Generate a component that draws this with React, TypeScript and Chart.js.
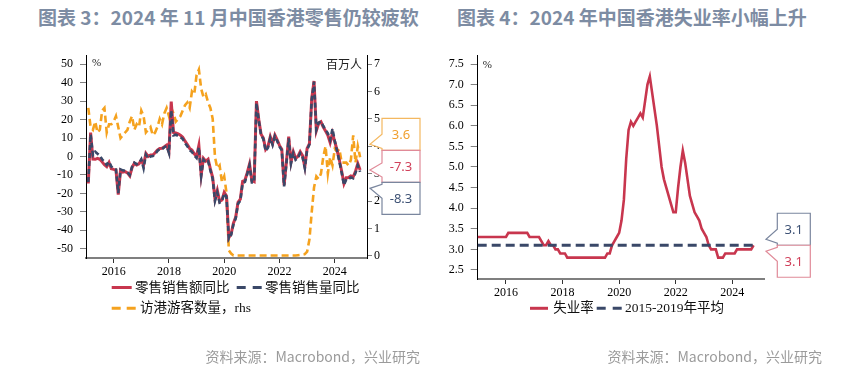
import React, { useEffect, useRef } from "react";
import { Chart, registerables } from "chart.js";

Chart.register(...registerables);

// ---------------- DATA ----------------
const START_YEAR = 2015;

// 零售销售额同比 (%), monthly Jan 2015 – Nov 2024
const retailValueYoY = [
  -14.6, 13.0, -1.4, -1.5, -1.0, -1.5, -2.9, -4.5, -5.5, -3.2, -6.6, -7.0,
  -7.3, -20.6, -7.5, -8.5, -8.2, -8.9, -10.5, -6.0, -3.7, -4.6, -4.0, -2.0,
  -4.6, 1.7, 0.0, 0.8, 0.8, 2.0, 3.5, 4.4, 4.5, 5.3, 6.2, 2.6,
  29.8, 13.0, 12.8, 12.3, 11.5, 10.5, 8.3, 6.5, 4.4, 3.5, 1.5, 0.1,
  6.0, -10.0, -1.0, -2.5, -1.5, -6.7, -11.4, -23.0, -18.3, -24.3, -23.6, -19.4,
  -21.4, -44.0, -42.0, -36.1, -32.8, -24.8, -23.1, -13.4, -12.9, -8.8, -4.1, -13.0,
  -13.6, 30.0, 20.1, 12.1, 10.0, 3.8, 5.5, 10.7, 7.0, 11.6, 9.0, 6.0,
  4.0, -15.5, -3.0, 10.7, -3.0, 2.6, -1.0, 0.0, 2.6, 0.5, -5.5, 4.4,
  7.0, 31.3, 40.9, 14.0, 18.0, 18.8, 16.0, 13.8, 11.5, 7.5, 12.5, 8.0,
  3.5, -1.9, -8.0, -14.7, -11.5, -11.4, -10.5, -11.0, -8.0, -3.8, -7.3,
];

// 零售销售量同比 (%), monthly Jan 2015 – Nov 2024
const retailVolumeYoY = [
  -13.8, 12.0, 0.8, 2.6, 1.5, 0.5, -1.5, -3.0, -4.5, -2.8, -5.5, -6.5,
  -7.0, -19.8, -7.0, -7.5, -7.8, -8.5, -10.0, -5.5, -3.3, -4.2, -3.6, -1.5,
  -6.4, 1.0, -1.0, 0.0, 0.2, 1.3, 3.0, 4.0, 4.0, 5.0, 5.8, 2.0,
  25.0, 11.5, 11.8, 11.2, 10.5, 9.5, 7.2, 5.5, 3.5, 2.5, 0.5, -0.8,
  5.0, -10.5, -1.8, -3.2, -2.5, -7.5, -12.2, -24.0, -19.5, -25.0, -24.3, -20.0,
  -22.0, -44.6, -42.5, -36.8, -33.5, -25.5, -24.0, -14.5, -13.8, -9.5, -4.8, -14.0,
  -14.0, 29.0, 19.5, 11.5, 9.5, 3.0, 4.8, 10.0, 6.3, 11.0, 8.4, 5.3,
  3.4, -16.2, -3.8, 9.8, -3.8, 1.8, -1.8, -0.8, 1.8, -0.3, -6.3, 3.6,
  6.5, 31.0, 40.5, 14.5, 18.3, 19.0, 16.5, 14.5, 12.5, 9.0, 15.0, 8.5,
  3.0, -2.8, -8.8, -15.5, -12.3, -12.2, -11.3, -11.8, -8.9, -4.8, -8.3,
];

// 访港游客数量 (百万人, rhs), monthly Jan 2015 – Nov 2024
const visitorArrivalsMn = [
  5.4, 4.7, 4.6, 4.9, 4.5, 4.6, 5.3, 5.4, 4.5, 4.8, 4.8, 4.9,
  5.1, 4.7, 4.3, 4.4, 4.5, 4.6, 4.9, 5.1, 4.6, 4.8, 4.7, 5.3,
  5.1, 4.5, 4.6, 4.7, 4.4, 4.5, 4.7, 5.0, 4.8, 5.2, 5.4, 5.1,
  5.4, 5.2, 4.9, 5.0, 5.1, 5.3, 5.5, 5.6, 5.4, 6.0, 5.9, 6.6,
  6.8, 6.1, 5.8, 5.9, 5.6, 5.4, 5.0, 3.6, 3.2, 3.3, 2.7, 2.9,
  2.3, 0.2, 0.08, 0.01, 0.01, 0.01, 0.01, 0.01, 0.01, 0.01, 0.01, 0.01,
  0.01, 0.01, 0.01, 0.01, 0.01, 0.01, 0.01, 0.01, 0.01, 0.01, 0.01, 0.01,
  0.01, 0.01, 0.01, 0.01, 0.01, 0.01, 0.01, 0.02, 0.03, 0.04, 0.06, 0.15,
  0.6, 1.6, 2.5, 2.9, 2.8, 3.0, 3.6, 4.0, 3.0, 3.6, 3.3, 3.9,
  3.8, 3.9, 3.4, 3.4, 3.4, 3.3, 3.5, 4.4, 3.4, 4.0, 3.6,
];

// 失业率 (%), monthly Jan 2015 – Oct 2024
const unemploymentRate = [
  3.3, 3.3, 3.3, 3.3, 3.3, 3.3, 3.3, 3.3, 3.3, 3.3, 3.3, 3.3,
  3.3, 3.4, 3.4, 3.4, 3.4, 3.4, 3.4, 3.4, 3.4, 3.4, 3.3, 3.3,
  3.3, 3.3, 3.3, 3.2, 3.1, 3.1, 3.2, 3.1, 3.1, 3.0, 3.0, 2.9,
  2.9, 2.9, 2.8, 2.8, 2.8, 2.8, 2.8, 2.8, 2.8, 2.8, 2.8, 2.8,
  2.8, 2.8, 2.8, 2.8, 2.8, 2.8, 2.8, 2.9, 2.9, 3.1, 3.2, 3.3,
  3.4, 3.7, 4.2, 5.2, 5.9, 6.1, 6.0, 6.1, 6.2, 6.3, 6.2, 6.6,
  7.0, 7.2, 6.8, 6.4, 6.0, 5.5, 5.0, 4.7, 4.5, 4.3, 4.1, 3.9,
  3.9, 4.5, 5.0, 5.4, 5.1, 4.7, 4.3, 4.1, 3.9, 3.8, 3.7, 3.5,
  3.4, 3.3, 3.1, 3.0, 3.0, 3.0, 2.8, 2.8, 2.8, 2.9, 2.9, 2.9,
  2.9, 2.9, 3.0, 3.0, 3.0, 3.0, 3.0, 3.0, 3.0, 3.1,
];

// 2015-2019年平均 (%)
const unemploymentAvg2015to2019 = 3.1;

const yearTicks = [2016, 2018, 2020, 2022, 2024];
const retailTicks = [-50, -40, -30, -20, -10, 0, 10, 20, 30, 40, 50];
const visitorTicks = [0, 1, 2, 3, 4, 5, 6, 7];
const unemploymentTicks = [2.5, 3.0, 3.5, 4.0, 4.5, 5.0, 5.5, 6.0, 6.5, 7.0, 7.5];

// ---------------- STYLE ----------------
const RED = "#C8364E";
const SLATE = "#3A4868";
const ORANGE = "#F5A21E";
const SERIF = '"Liberation Serif", "Times New Roman", serif';
const CJK = '"Noto Sans CJK SC", "Noto Sans", sans-serif';
const LEGEND_FONT = '13.5px "Liberation Serif", "Noto Sans CJK SC", serif';

// retail/visitor series are dated at month end, unemployment at month start
const endOfMonth = (arr: number[]) => arr.map((v, i) => ({ x: START_YEAR + (i + 1) / 12, y: v }));
const startOfMonth = (arr: number[]) => arr.map((v, i) => ({ x: START_YEAR + i / 12, y: v }));

type CalloutItem = { ds: number; text: string; border: string };

function makeCalloutPlugin(items: CalloutItem[], boxW: number, gap: number, tipGap: number) {
  return {
    id: "callouts",
    afterDraw(chart: any) {
      const ctx = chart.ctx as CanvasRenderingContext2D;
      const area = chart.chartArea;
      const h = 32;
      const ys = items.map((it) => {
        const pts = chart.getDatasetMeta(it.ds).data;
        return pts[pts.length - 1].y as number;
      });
      const mean = ys.reduce((a, b) => a + b, 0) / ys.length;
      const top0 = mean - (h * items.length) / 2;
      const left = area.right + gap;
      const tipX = area.right + tipGap;
      const clamp = (v: number, a: number, b: number) => Math.max(a, Math.min(b, v));
      ctx.save();
      items.forEach((it, k) => {
        const top = top0 + k * h;
        const bot = top + h;
        const ty = clamp(ys[k], top + 6, bot - 6);
        const bc = clamp(ys[k], top + 9, bot - 9);
        ctx.beginPath();
        ctx.moveTo(left, top);
        ctx.lineTo(left + boxW, top);
        ctx.lineTo(left + boxW, bot);
        ctx.lineTo(left, bot);
        ctx.lineTo(left, bc + 7);
        ctx.lineTo(tipX, ty);
        ctx.lineTo(left, bc - 7);
        ctx.closePath();
        ctx.fillStyle = "#ffffff";
        ctx.fill();
        ctx.lineWidth = 1.2;
        ctx.strokeStyle = it.border;
        ctx.stroke();
        const ds = chart.data.datasets[it.ds];
        const last = ds.data[ds.data.length - 1].y as number;
        ctx.fillStyle = it.text;
        ctx.font = '13px "Noto Sans", sans-serif';
        ctx.textAlign = "center";
        ctx.textBaseline = "middle";
        ctx.fillText(last.toFixed(1), left + boxW / 2, (top + bot) / 2 + 1);
      });
      ctx.restore();
    },
  };
}

type LegendItem = { x: number; y: number; len: number; color: string; dash: number[]; width: number; label: string; textX: number };

function makeLegendPlugin(items: LegendItem[], notes: { text: string; x: (a: any) => number; y: (a: any) => number; align: CanvasTextAlign; font: string }[]) {
  return {
    id: "customLegend",
    afterDraw(chart: any) {
      const ctx = chart.ctx as CanvasRenderingContext2D;
      const area = chart.chartArea;
      ctx.save();
      items.forEach((it) => {
        ctx.beginPath();
        ctx.setLineDash(it.dash);
        ctx.lineWidth = it.width;
        ctx.strokeStyle = it.color;
        ctx.moveTo(it.x, it.y);
        ctx.lineTo(it.x + it.len, it.y);
        ctx.stroke();
        ctx.setLineDash([]);
        ctx.fillStyle = "#111";
        ctx.font = LEGEND_FONT;
        ctx.textAlign = "left";
        ctx.textBaseline = "middle";
        ctx.fillText(it.label, it.textX, it.y + 0.5);
      });
      notes.forEach((n) => {
        ctx.fillStyle = "#222";
        ctx.font = n.font;
        ctx.textAlign = n.align;
        ctx.textBaseline = "top";
        ctx.fillText(n.text, n.x(area), n.y(area));
      });
      ctx.restore();
    },
  };
}

const tickFont = { family: SERIF, size: 12 };

function leftConfig(): any {
  return {
    type: "line",
    data: {
      datasets: [
        { label: "零售销售量同比", data: endOfMonth(retailVolumeYoY), borderColor: SLATE, borderWidth: 2.6, borderDash: [5, 3], yAxisID: "y", pointRadius: 0, tension: 0 },
        { label: "零售销售额同比", data: endOfMonth(retailValueYoY), borderColor: RED, borderWidth: 3, yAxisID: "y", pointRadius: 0, tension: 0 },
        { label: "访港游客数量，rhs", data: endOfMonth(visitorArrivalsMn), borderColor: ORANGE, borderWidth: 2.6, borderDash: [7, 4], yAxisID: "y1", pointRadius: 0, tension: 0 },
      ],
    },
    options: {
      responsive: false,
      animation: false,
      events: [],
      layout: { padding: { top: 55, left: 0, right: 0, bottom: 0 } },
      plugins: { legend: { display: false }, tooltip: { enabled: false }, title: { display: false } },
      scales: {
        x: {
          type: "linear",
          min: 2015,
          max: 2025.166,
          afterBuildTicks: (s: any) => { s.ticks = yearTicks.map((v) => ({ value: v })); },
          afterFit: (s: any) => { s.height = 113; },
          ticks: { callback: (v: any) => String(v), font: tickFont, color: "#000", padding: 2, maxRotation: 0, autoSkip: false },
          grid: { drawOnChartArea: false, tickLength: 5, tickColor: "#333", lineWidth: 1 },
          border: { color: "#7f7f7f", width: 2 },
        },
        y: {
          position: "left",
          min: -55,
          max: 55,
          afterBuildTicks: (s: any) => { s.ticks = retailTicks.map((v) => ({ value: v })); },
          afterFit: (s: any) => { s.width = 86; },
          ticks: { callback: (v: any) => String(v), font: tickFont, color: "#000", padding: 7, autoSkip: false },
          grid: { drawOnChartArea: false, tickLength: 6, tickColor: "#808080" },
          border: { color: "#000", width: 1 },
        },
        y1: {
          position: "right",
          min: -0.08,
          max: 7.33,
          afterBuildTicks: (s: any) => { s.ticks = visitorTicks.map((v) => ({ value: v })); },
          afterFit: (s: any) => { s.width = 63; },
          ticks: { callback: (v: any) => String(v), font: tickFont, color: "#000", padding: 2, autoSkip: false },
          grid: { drawOnChartArea: false, tickLength: 5, tickColor: "#808080" },
          border: { color: "#000", width: 1 },
        },
      },
    },
    plugins: [
      makeCalloutPlugin(
        [
          { ds: 2, text: "#F0A030", border: "#F4B860" },
          { ds: 1, text: "#D0405A", border: "#E08A98" },
          { ds: 0, text: "#3E5275", border: "#7A869E" },
        ],
        38, 15, 3
      ),
      makeLegendPlugin(
        [
          { x: 111.7, y: 287.5, len: 20, color: RED, dash: [], width: 3, label: "零售销售额同比", textX: 135 },
          { x: 236.7, y: 287.5, len: 25, color: SLATE, dash: [9, 7], width: 3, label: "零售销售量同比", textX: 265 },
          { x: 111.7, y: 308.3, len: 24, color: ORANGE, dash: [9, 6], width: 3, label: "访港游客数量，rhs", textX: 140 },
        ],
        [
          { text: "%", x: (a) => a.left + 6, y: (a) => a.top + 3, align: "left", font: `11px ${SERIF}` },
          { text: "百万人", x: (a) => a.right - 5, y: (a) => a.top + 3, align: "right", font: `12px ${CJK}` },
        ]
      ),
    ],
  };
}

function rightConfig(): any {
  return {
    type: "line",
    data: {
      datasets: [
        { label: "2015-2019年平均", data: unemploymentRate.map((_, i) => ({ x: START_YEAR + i / 12, y: unemploymentAvg2015to2019 })), borderColor: SLATE, borderWidth: 3, borderDash: [9, 5], pointRadius: 0, tension: 0 },
        { label: "失业率", data: startOfMonth(unemploymentRate), borderColor: RED, borderWidth: 2.6, pointRadius: 0, tension: 0 },
      ],
    },
    options: {
      responsive: false,
      animation: false,
      events: [],
      layout: { padding: { top: 55, left: 0, right: 91, bottom: 0 } },
      plugins: { legend: { display: false }, tooltip: { enabled: false }, title: { display: false } },
      scales: {
        x: {
          type: "linear",
          min: 2015,
          max: 2025.12,
          afterBuildTicks: (s: any) => { s.ticks = yearTicks.map((v) => ({ value: v })); },
          afterFit: (s: any) => { s.height = 92; },
          ticks: { callback: (v: any) => String(v), font: tickFont, color: "#000", padding: 2, maxRotation: 0, autoSkip: false },
          grid: { drawOnChartArea: false, tickLength: 5, tickColor: "#333" },
          border: { color: "#7f7f7f", width: 2 },
        },
        y: {
          position: "left",
          min: 2.28,
          max: 7.72,
          afterBuildTicks: (s: any) => { s.ticks = unemploymentTicks.map((v) => ({ value: v })); },
          afterFit: (s: any) => { s.width = 47.7; },
          ticks: { callback: (v: any) => Number(v).toFixed(1), font: tickFont, color: "#000", padding: 7, autoSkip: false },
          grid: { drawOnChartArea: false, tickLength: 7, tickColor: "#808080" },
          border: { color: "#000", width: 1 },
        },
      },
    },
    plugins: [
      makeCalloutPlugin(
        [
          { ds: 0, text: "#3E5275", border: "#7A869E" },
          { ds: 1, text: "#D0405A", border: "#E08A98" },
        ],
        33, 13.3, 2
      ),
      makeLegendPlugin(
        [
          { x: 100, y: 308.3, len: 18, color: RED, dash: [], width: 3, label: "失业率", textX: 123.3 },
          { x: 166.7, y: 308.3, len: 26, color: SLATE, dash: [9, 7], width: 3, label: "2015-2019年平均", textX: 195 },
        ],
        [{ text: "%", x: (a) => a.left + 5, y: (a) => a.top + 5, align: "left", font: `11px ${SERIF}` }]
      ),
    ],
  };
}

const titleStyle = (left: number): React.CSSProperties => ({
  position: "absolute",
  left,
  top: 6,
  fontFamily: CJK,
  fontWeight: 700,
  fontSize: 19,
  lineHeight: "22px",
  color: "#7d8ca3",
  whiteSpace: "nowrap",
});

const footerStyle = (right: number): React.CSSProperties => ({
  position: "absolute",
  right,
  top: 346,
  fontFamily: CJK,
  fontSize: 14,
  lineHeight: "20px",
  color: "#9b9b9b",
  whiteSpace: "nowrap",
});

export default function App() {
  const leftRef = useRef<HTMLCanvasElement>(null);
  const rightRef = useRef<HTMLCanvasElement>(null);

  useEffect(() => {
    const c1 = new Chart(leftRef.current as HTMLCanvasElement, leftConfig());
    const c2 = new Chart(rightRef.current as HTMLCanvasElement, rightConfig());
    return () => {
      c1.destroy();
      c2.destroy();
    };
  }, []);

  return (
    <div style={{ position: "absolute", left: 0, top: 0, width: 855, height: 371, background: "#fff", overflow: "hidden" }}>
      <div style={titleStyle(38)}>图表 3：2024 年 11 月中国香港零售仍较疲软</div>
      <div style={titleStyle(457)}>图表 4：2024 年中国香港失业率小幅上升</div>
      <div style={{ position: "absolute", left: 0, top: 0, width: 430, height: 371 }}>
        <canvas ref={leftRef} width={430} height={371} style={{ width: 430, height: 371, display: "block" }} />
      </div>
      <div style={{ position: "absolute", left: 430, top: 0, width: 425, height: 371 }}>
        <canvas ref={rightRef} width={425} height={371} style={{ width: 425, height: 371, display: "block" }} />
      </div>
      <div style={footerStyle(855 - 420)}>资料来源：Macrobond，兴业研究</div>
      <div style={footerStyle(855 - 822)}>资料来源：Macrobond，兴业研究</div>
    </div>
  );
}
